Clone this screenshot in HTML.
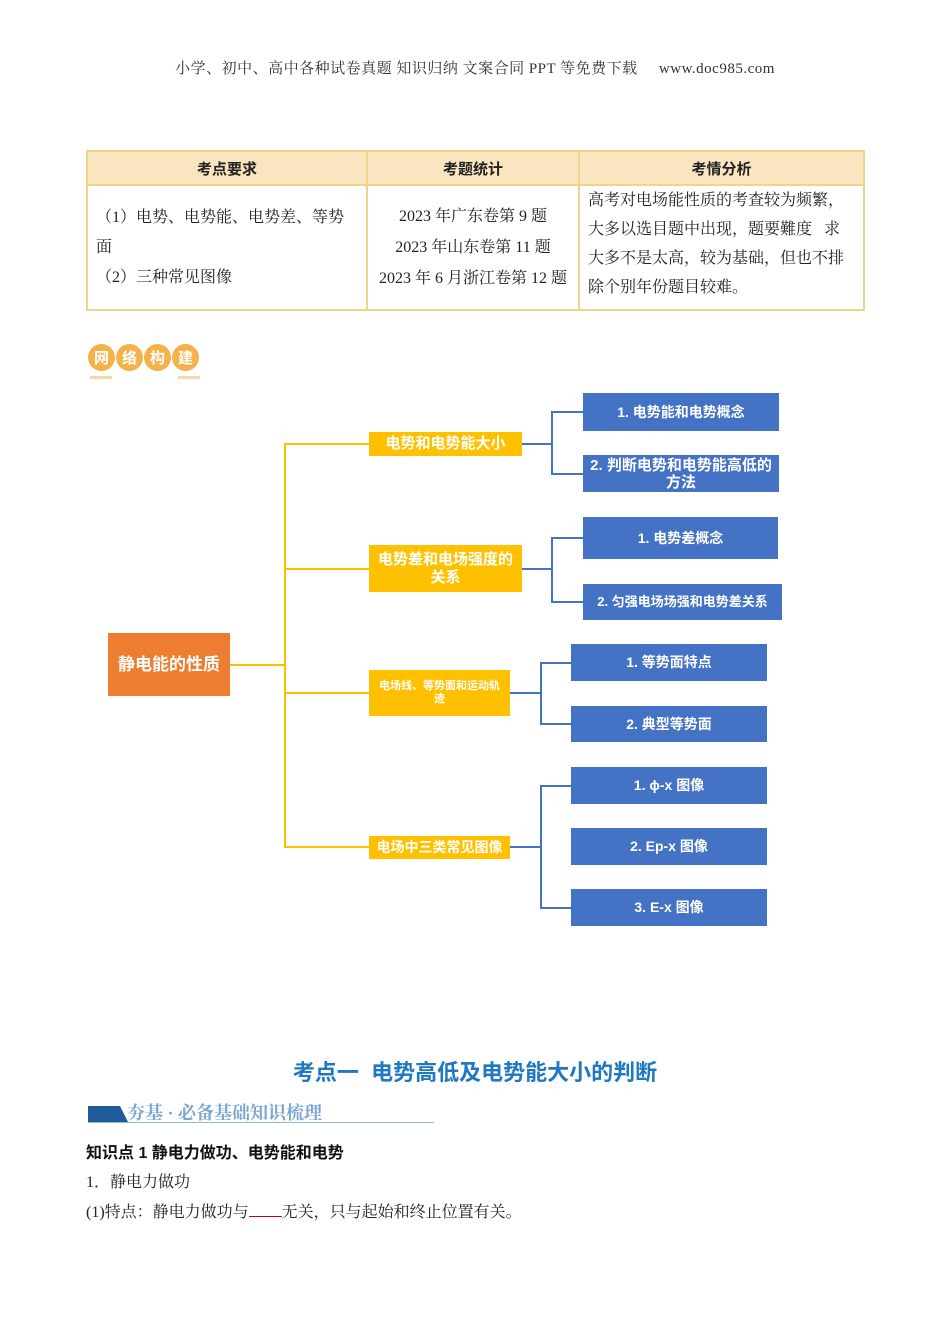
<!DOCTYPE html>
<html><head><meta charset="utf-8"><style>
body{margin:0;width:950px;height:1344px;background:#fff;position:relative;font-family:"Liberation Serif","Noto Serif CJK SC","Noto Sans CJK SC",serif;color:#222}
.a{position:absolute}
.s{font-family:"Liberation Sans","Noto Sans CJK SC",sans-serif;font-weight:bold}
.box{position:absolute;display:flex;align-items:center;justify-content:center;text-align:center;color:#fff;font-family:"Liberation Sans","Noto Sans CJK SC",sans-serif;font-weight:bold;line-height:1.15}
.y{background:#FFC000;font-size:15px}
.b{background:#4472C4;font-size:14px}
.h{background:#4472C4;position:absolute}
.o{background:#FFC000;position:absolute}
table{border-collapse:collapse;position:absolute;left:86px;top:150px;width:779px}
td{border:2px solid #F0D48A;font-size:16px}
</style></head><body>
<div class="a" style="left:0;width:950px;top:57px;text-align:center;font-size:15px;color:#333;letter-spacing:0.5px">小学、初中、高中各种试卷真题 知识归纳 文案合同 PPT 等免费下载 &nbsp;&nbsp;&nbsp; www.doc985.com</div>
<table>
<tr style="height:34px;background:#FBE5C0"><td class="s" style="width:276px;text-align:center;font-size:15px">考点要求</td><td class="s" style="width:208px;text-align:center;font-size:15px">考题统计</td><td class="s" style="text-align:center;font-size:15px">考情分析</td></tr>
<tr style="height:125px"><td style="padding:0 8px;line-height:30px;vertical-align:middle">（1）电势、电势能、电势差、等势面<br>（2）三种常见图像</td><td style="text-align:center;line-height:31px">2023 年广东卷第 9 题<br>2023 年山东卷第 11 题<br>2023 年 6 月浙江卷第 12 题</td><td style="padding:0 8px;line-height:29px;vertical-align:top">高考对电场能性质的考查较为频繁，大多以选目题中出现，题要難度&nbsp;&nbsp;&nbsp;求大多不是太高，较为基础，但也不排除个别年份题目较难。</td></tr>
</table>
<div class="a" style="left:88px;top:344px;display:flex;gap:1px">
<span class="s" style="width:27px;height:27px;border-radius:50%;background:#F5B24A;color:#fff;font-size:15px;display:flex;align-items:center;justify-content:center">网</span>
<span class="s" style="width:27px;height:27px;border-radius:50%;background:#F5B24A;color:#fff;font-size:15px;display:flex;align-items:center;justify-content:center">络</span>
<span class="s" style="width:27px;height:27px;border-radius:50%;background:#F5B24A;color:#fff;font-size:15px;display:flex;align-items:center;justify-content:center">构</span>
<span class="s" style="width:27px;height:27px;border-radius:50%;background:#F5B24A;color:#fff;font-size:15px;display:flex;align-items:center;justify-content:center">建</span>
</div>
<div class="a" style="left:90px;top:376px;width:22px;height:3px;background:#F5D9A8"></div>
<div class="a" style="left:178px;top:376px;width:22px;height:3px;background:#F5D9A8"></div>

<div class="box" style="left:108px;top:633px;width:122px;height:63px;background:#ED7D31;font-size:17px">静电能的性质</div>
<div class="o" style="left:230px;top:664px;width:56px;height:2px"></div>
<div class="o" style="left:284px;top:443px;width:2px;height:405px"></div>
<div class="o" style="left:284px;top:443px;width:86px;height:2px"></div>
<div class="o" style="left:284px;top:568px;width:86px;height:2px"></div>
<div class="o" style="left:284px;top:692px;width:86px;height:2px"></div>
<div class="o" style="left:284px;top:846px;width:86px;height:2px"></div>
<div class="box y" style="left:369px;top:432px;width:153px;height:24px">电势和电势能大小</div>
<div class="box y" style="left:369px;top:545px;width:153px;height:47px">电势差和电场强度的<br>关系</div>
<div class="box y" style="left:369px;top:670px;width:141px;height:46px;font-size:11px">电场线、等势面和运动轨<br>迹</div>
<div class="box y" style="left:369px;top:836px;width:141px;height:23px;font-size:14px">电场中三类常见图像</div>

<div class="h" style="left:522px;top:443px;width:31px;height:2px"></div>
<div class="h" style="left:551px;top:411px;width:2px;height:64px"></div>
<div class="h" style="left:551px;top:411px;width:32px;height:2px"></div>
<div class="h" style="left:551px;top:473px;width:32px;height:2px"></div>
<div class="box b" style="left:583px;top:393px;width:196px;height:38px">1. 电势能和电势概念</div>
<div class="box b" style="left:583px;top:455px;width:196px;height:37px;font-size:15px;align-items:flex-start;padding-top:2px;box-sizing:border-box;overflow:hidden">2. 判断电势和电势能高低的<br>方法</div>

<div class="h" style="left:522px;top:568px;width:31px;height:2px"></div>
<div class="h" style="left:551px;top:537px;width:2px;height:66px"></div>
<div class="h" style="left:551px;top:537px;width:32px;height:2px"></div>
<div class="h" style="left:551px;top:601px;width:32px;height:2px"></div>
<div class="box b" style="left:583px;top:517px;width:195px;height:42px">1. 电势差概念</div>
<div class="box b" style="left:583px;top:584px;width:199px;height:36px;font-size:13px">2. 匀强电场场强和电势差关系</div>

<div class="h" style="left:510px;top:692px;width:32px;height:2px"></div>
<div class="h" style="left:540px;top:662px;width:2px;height:63px"></div>
<div class="h" style="left:540px;top:662px;width:31px;height:2px"></div>
<div class="h" style="left:540px;top:723px;width:31px;height:2px"></div>
<div class="box b" style="left:571px;top:644px;width:196px;height:37px">1. 等势面特点</div>
<div class="box b" style="left:571px;top:706px;width:196px;height:36px">2. 典型等势面</div>

<div class="h" style="left:510px;top:846px;width:32px;height:2px"></div>
<div class="h" style="left:540px;top:785px;width:2px;height:124px"></div>
<div class="h" style="left:540px;top:785px;width:31px;height:2px"></div>
<div class="h" style="left:540px;top:907px;width:31px;height:2px"></div>
<div class="box b" style="left:571px;top:767px;width:196px;height:37px">1. ϕ-x 图像</div>
<div class="box b" style="left:571px;top:828px;width:196px;height:37px">2. Ep-x 图像</div>
<div class="box b" style="left:571px;top:889px;width:196px;height:37px">3. E-x 图像</div>

<div class="a s" style="left:0;width:950px;top:1055px;text-align:center;font-size:22px;color:#1F78C1">考点一&nbsp; 电势高低及电势能大小的判断</div>
<div class="a" style="left:88px;top:1106px;width:40px;height:16px;background:#1F5C99;clip-path:polygon(0 0,80% 0,100% 100%,0 100%)"></div>
<div class="a" style="left:127px;top:1099px;font-size:18px;font-weight:bold;color:#7AA6D4">夯基 · 必备基础知识梳理</div>
<div class="a" style="left:88px;top:1122px;width:346px;height:1px;background:#8DB8E0"></div>
<div class="a s" style="left:86px;top:1139px;font-size:16px;color:#111">知识点 1 静电力做功、电势能和电势</div>
<div class="a" style="left:86px;top:1169px;font-size:16px">1．静电力做功</div>
<div class="a" style="left:86px;top:1199px;font-size:16px">(1)特点：静电力做功与<span style="display:inline-block;width:33px;border-bottom:1px solid #c00"></span>无关，只与起始和终止位置有关。</div>
</body></html>
